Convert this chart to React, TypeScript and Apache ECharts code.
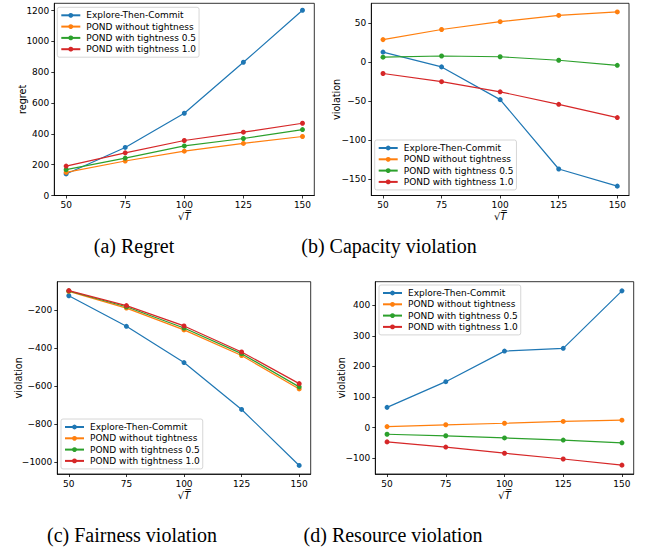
import React, { useEffect, useRef } from "react";
import * as echarts from "echarts";

const xValues = [50, 75, 100, 125, 150];
const seriesNames = [
  "Explore-Then-Commit",
  "POND without tightness",
  "POND with tightness 0.5",
  "POND with tightness 1.0",
];
const colors = ["#1f77b4", "#ff7f0e", "#2ca02c", "#d62728"];

const regretETC = [140, 312, 534, 865, 1203];
const regretPOND = [150, 224, 288, 338, 383];
const regret05 = [168, 243, 322, 370, 428];
const regret10 = [191, 277, 357, 411, 469];

const capETC = [13, -6, -48, -137, -159];
const capPOND = [29, 42, 52, 60, 64.5];
const cap05 = [6.5, 8, 7, 2.5, -4];
const cap10 = [-14.5, -25, -38, -54, -71];

const fairETC = [-123, -284, -475, -722, -1017];
const fairPOND = [-100, -188, -303, -438, -614];
const fair05 = [-98, -181, -293, -428, -603];
const fair10 = [-96, -175, -282, -419, -586];

const resETC = [66, 150, 250, 259, 447];
const resPOND = [3, 9, 14, 20, 24];
const res05 = [-22, -27, -34, -41, -50];
const res10 = [-47, -64, -84, -103, -123];

const regretTicks = [0, 200, 400, 600, 800, 1000, 1200];
const capTicks = [-150, -100, -50, 0, 50];
const fairTicks = [-1000, -800, -600, -400, -200];
const resTicks = [-100, 0, 100, 200, 300, 400];

const yLabels = ["regret", "violation", "violation", "violation"];
const captions = ["(a) Regret", "(b) Capacity violation", "(c) Fairness violation", "(d) Resource violation"];

const FONT = "DejaVu Sans";
const FS = 9;

export default function App() {
  const ref = useRef<HTMLDivElement>(null);
  useEffect(() => {
    if (!ref.current) return;
    const chart = echarts.init(ref.current, null, { renderer: "svg" });

    const panels = [
      { data: [regretETC, regretPOND, regret05, regret10], ticks: regretTicks, min: 0, max: 1248,
        grid: { left: 54.3, top: 3.3, width: 260, height: 192.2 }, nameGap: 27,
        legend: { left: 57.3, top: 7.3 } },
      { data: [capETC, capPOND, cap05, cap10], ticks: capTicks, min: -171, max: 75.6,
        grid: { left: 371.3, top: 3.3, width: 257.7, height: 192.2 }, nameGap: 30,
        legend: { left: 374.7, top: 140 } },
      { data: [fairETC, fairPOND, fair05, fair10], ticks: fairTicks, min: -1062, max: -49,
        grid: { left: 57.3, top: 281.7, width: 253.4, height: 192.3 }, nameGap: 34,
        legend: { left: 61, top: 419 } },
      { data: [resETC, resPOND, res05, res10], ticks: resTicks, min: -152, max: 477,
        grid: { left: 375.3, top: 281.7, width: 258.4, height: 192.3 }, nameGap: 29,
        legend: { left: 379, top: 285 } },
    ];

    const fmt = (v: number) => String(v).replace("-", "\u2212");

    const option: any = {
      animation: false,
      backgroundColor: "#fff",
      grid: panels.map((p) => ({
        ...p.grid,
        show: true,
        borderColor: "#000",
        borderWidth: 0.8,
        backgroundColor: "transparent",
      })),
      xAxis: panels.map((p, i) => ({
        type: "value",
        gridIndex: i,
        min: 45,
        max: 155,
        name: "{s|\u221A}{t|T\u0305}",
        nameLocation: "middle",
        nameGap: 16,
        nameMoveOverlap: false,
        nameTextStyle: {
          rich: {
            s: { fontFamily: FONT, fontSize: 10, color: "#000" },
            t: { fontFamily: FONT, fontSize: 10, fontStyle: "italic", color: "#000" },
          },
        },
        splitLine: { show: false },
        axisLine: { show: true, onZero: false, lineStyle: { color: "#000", width: 0.8 } },
        axisTick: { show: true, length: 3, customValues: xValues, lineStyle: { color: "#000", width: 0.8 } },
        axisLabel: { customValues: xValues, margin: 5, fontFamily: FONT, fontSize: FS, color: "#000" },
      })),
      yAxis: panels.map((p, i) => ({
        type: "value",
        gridIndex: i,
        min: p.min,
        max: p.max,
        name: yLabels[i],
        nameLocation: "middle",
        nameGap: p.nameGap,
        nameMoveOverlap: false,
        nameTextStyle: { fontFamily: FONT, fontSize: 9.6, color: "#000" },
        splitLine: { show: false },
        axisLine: { show: true, onZero: false, lineStyle: { color: "#000", width: 0.8 } },
        axisTick: { show: true, length: 3, customValues: p.ticks, lineStyle: { color: "#000", width: 0.8 } },
        axisLabel: { customValues: p.ticks, margin: 5, fontFamily: FONT, fontSize: FS, color: "#000", formatter: fmt },
      })),
      legend: panels.map((p, i) => ({
        orient: "vertical",
        left: p.legend.left,
        top: p.legend.top,
        data: seriesNames,
        selectedMode: false,
        itemWidth: 19,
        itemHeight: 6,
        itemGap: 1.3,
        padding: [3, 3, 3, 3],
        backgroundColor: "rgba(255,255,255,0.8)",
        borderColor: "#cccccc",
        borderWidth: 0.8,
        borderRadius: 2,
        textStyle: { fontFamily: FONT, fontSize: FS, color: "#000", lineHeight: 10, padding: [0, 0, 0, 1] },
      })),
      series: panels.flatMap((p, i) =>
        p.data.map((arr, j) => ({
          type: "line",
          name: seriesNames[j],
          xAxisIndex: i,
          yAxisIndex: i,
          data: arr.map((v, k) => [xValues[k], v]),
          symbol: "circle",
          symbolSize: 5,
          color: colors[j],
          lineStyle: { color: colors[j], width: 1.2 },
          itemStyle: { color: colors[j] },
          z: 2 + j,
        }))
      ),
      graphic: [
        { x: 134, y: 246 },
        { x: 389, y: 246 },
        { x: 132, y: 535 },
        { x: 393, y: 535 },
      ].map((pos, i) => ({
        type: "text",
        x: pos.x,
        y: pos.y,
        style: {
          text: captions[i],
          fontFamily: "Liberation Serif",
          fontSize: 20,
          fill: "#000",
          align: "center",
          verticalAlign: "middle",
        },
      })),
    };

    chart.setOption(option);
    return () => chart.dispose();
  }, []);

  return (
    <div
      ref={ref}
      style={{ position: "fixed", left: 0, top: 0, width: 646, height: 548, background: "#fff" }}
    />
  );
}
